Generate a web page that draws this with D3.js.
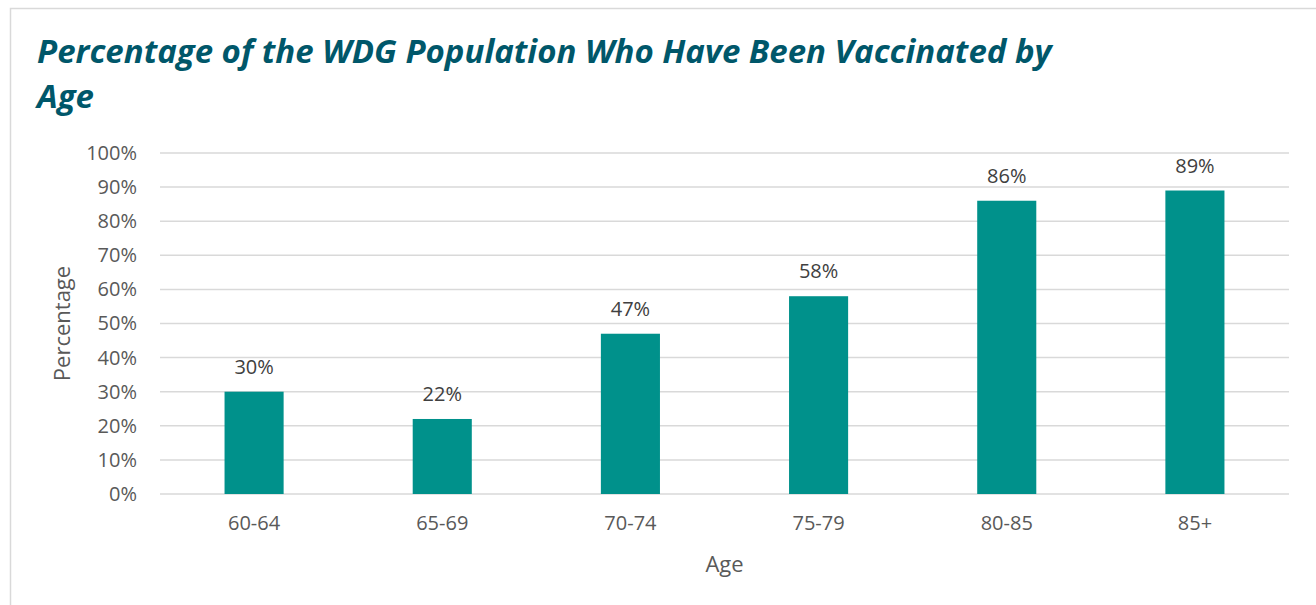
<!DOCTYPE html>
<html><head><meta charset="utf-8">
<script src="https://cdn.jsdelivr.net/npm/d3@7"></script>
<style>body{margin:0;background:#fff;}svg{display:block;}</style>
</head><body>
<script>
const categories = ["60-64","65-69","70-74","75-79","80-85","85+"];
const values = [30,22,47,58,86,89];
const yTicks = [0,10,20,30,40,50,60,70,80,90,100];
const titleLines = ["Percentage of the WDG Population Who Have Been Vaccinated by","Age"];

const W=1316,H=605;
const svg=d3.select("body").append("svg").attr("width",W).attr("height",H);
svg.append("rect").attr("x",10.5).attr("y",8.5).attr("width",W+20).attr("height",H+20)
  .attr("fill","#fff").attr("stroke","#d9d9d9").attr("stroke-width",1.5);

const m={left:160,right:1289,top:153,bottom:494};
const x=d3.scaleBand().domain(categories).range([m.left,m.right]).paddingInner(0.686).paddingOuter(0.343);
const y=d3.scaleLinear().domain([0,100]).range([m.bottom,m.top]);

svg.append("g").selectAll("line").data(yTicks).join("line")
  .attr("x1",m.left).attr("x2",m.right).attr("y1",d=>y(d)).attr("y2",d=>y(d))
  .attr("stroke","#d9d9d9").attr("stroke-width",1.5);

const font="'Open Sans',sans-serif";
const yAxis=svg.append("g").attr("transform",`translate(${m.left},0)`)
  .call(d3.axisLeft(y).tickValues(yTicks).tickFormat(d=>d+"%").tickSize(0).tickPadding(23));
yAxis.select(".domain").remove();
yAxis.selectAll("text").attr("fill","#595959").style("font-family",font).style("font-size","20px");

const xAxis=svg.append("g").attr("transform",`translate(0,${m.bottom})`)
  .call(d3.axisBottom(x).tickSize(0).tickPadding(22));
xAxis.select(".domain").remove();
xAxis.selectAll("text").attr("fill","#595959").style("font-family",font).style("font-size","20px");

svg.append("g").selectAll("rect").data(values).join("rect")
  .attr("x",(d,i)=>x(categories[i])).attr("width",x.bandwidth())
  .attr("y",d=>y(d)).attr("height",d=>y(0)-y(d)).attr("fill","#00918B");

svg.append("g").selectAll("text").data(values).join("text")
  .attr("x",(d,i)=>x(categories[i])+x.bandwidth()/2).attr("y",d=>y(d)-18)
  .attr("text-anchor","middle").attr("fill","#404040")
  .style("font-family",font).style("font-size","20px").text(d=>d+"%");

svg.append("text").attr("x",(m.left+m.right)/2).attr("y",572).attr("text-anchor","middle")
  .attr("fill","#595959").style("font-family",font).style("font-size","22px").text("Age");
svg.append("text").attr("transform",`translate(70,${(m.top+m.bottom)/2}) rotate(-90)`).attr("text-anchor","middle")
  .attr("fill","#595959").style("font-family",font).style("font-size","22px").text("Percentage");

svg.append("g").selectAll("text").data(titleLines).join("text")
  .attr("x",37).attr("y",(d,i)=>63+i*45).attr("fill","#00576A")
  .style("font-family",font).style("font-weight","bold").style("font-style","italic")
  .style("font-size","33px").text(d=>d);
</script>
</body></html>
